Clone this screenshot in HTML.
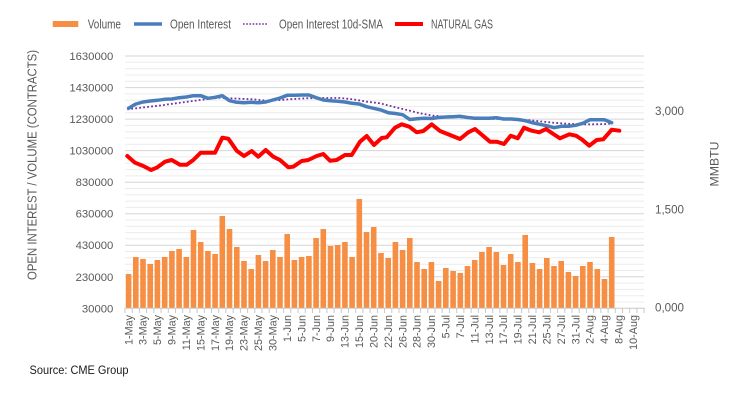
<!DOCTYPE html>
<html><head><meta charset="utf-8"><style>
html,body{margin:0;padding:0;background:#fff;}
svg{display:block;font-family:"Liberation Sans",Arial,sans-serif;}
</style></head><body>
<svg width="743" height="404" viewBox="0 0 743 404" xmlns="http://www.w3.org/2000/svg">
<rect width="743" height="404" fill="#fff"/>
<!-- legend -->
<rect x="52.7" y="21" width="25.6" height="6" fill="#f68f43"/>
<text x="87.7" y="28.5" font-size="13" fill="#595959" textLength="33.3" lengthAdjust="spacingAndGlyphs">Volume</text>
<line x1="134" y1="24" x2="162" y2="24" stroke="#4a7ebb" stroke-width="3.5"/>
<text x="170" y="28.5" font-size="13" fill="#595959" textLength="61" lengthAdjust="spacingAndGlyphs">Open Interest</text>
<line x1="243" y1="24" x2="268" y2="24" stroke="#7030a0" stroke-width="1.6" stroke-dasharray="1.6,1.6"/>
<text x="279" y="28.5" font-size="13" fill="#595959" textLength="104" lengthAdjust="spacingAndGlyphs">Open Interest 10d-SMA</text>
<line x1="395" y1="24" x2="423" y2="24" stroke="#ff0000" stroke-width="4"/>
<text x="431" y="28.5" font-size="13" fill="#595959" textLength="62" lengthAdjust="spacingAndGlyphs">NATURAL GAS</text>

<!-- minor gridlines -->
<g stroke="#ececec" stroke-width="1">
<line x1="125" x2="644" y1="302.0" y2="302.0"/><line x1="125" x2="644" y1="295.7" y2="295.7"/><line x1="125" x2="644" y1="289.4" y2="289.4"/><line x1="125" x2="644" y1="283.1" y2="283.1"/>
<line x1="125" x2="644" y1="270.5" y2="270.5"/><line x1="125" x2="644" y1="264.2" y2="264.2"/><line x1="125" x2="644" y1="257.8" y2="257.8"/><line x1="125" x2="644" y1="251.5" y2="251.5"/>
<line x1="125" x2="644" y1="238.9" y2="238.9"/><line x1="125" x2="644" y1="232.6" y2="232.6"/><line x1="125" x2="644" y1="226.3" y2="226.3"/><line x1="125" x2="644" y1="220.0" y2="220.0"/>
<line x1="125" x2="644" y1="207.4" y2="207.4"/><line x1="125" x2="644" y1="201.1" y2="201.1"/><line x1="125" x2="644" y1="194.8" y2="194.8"/><line x1="125" x2="644" y1="188.5" y2="188.5"/>
<line x1="125" x2="644" y1="175.9" y2="175.9"/><line x1="125" x2="644" y1="169.6" y2="169.6"/><line x1="125" x2="644" y1="163.2" y2="163.2"/><line x1="125" x2="644" y1="156.9" y2="156.9"/>
<line x1="125" x2="644" y1="144.3" y2="144.3"/><line x1="125" x2="644" y1="138.0" y2="138.0"/><line x1="125" x2="644" y1="131.7" y2="131.7"/><line x1="125" x2="644" y1="125.4" y2="125.4"/>
<line x1="125" x2="644" y1="112.8" y2="112.8"/><line x1="125" x2="644" y1="106.5" y2="106.5"/><line x1="125" x2="644" y1="100.2" y2="100.2"/><line x1="125" x2="644" y1="93.9" y2="93.9"/>
<line x1="125" x2="644" y1="81.3" y2="81.3"/><line x1="125" x2="644" y1="75.0" y2="75.0"/><line x1="125" x2="644" y1="68.7" y2="68.7"/><line x1="125" x2="644" y1="62.3" y2="62.3"/>
</g>
<!-- major gridlines -->
<g stroke="#d6d6d6" stroke-width="1">
<line x1="125" x2="644" y1="276.8" y2="276.8"/><line x1="125" x2="644" y1="245.2" y2="245.2"/><line x1="125" x2="644" y1="213.7" y2="213.7"/><line x1="125" x2="644" y1="182.2" y2="182.2"/>
<line x1="125" x2="644" y1="150.6" y2="150.6"/><line x1="125" x2="644" y1="119.1" y2="119.1"/><line x1="125" x2="644" y1="87.6" y2="87.6"/><line x1="125" x2="644" y1="56.0" y2="56.0"/>
</g>

<!-- bars -->
<g fill="#f68f43">
<rect x="125.8" y="274" width="5.6" height="34.3"/>
<rect x="133.0" y="257" width="5.6" height="51.3"/>
<rect x="140.2" y="259" width="5.6" height="49.3"/>
<rect x="147.4" y="264" width="5.6" height="44.3"/>
<rect x="154.6" y="260" width="5.6" height="48.3"/>
<rect x="161.9" y="257" width="5.6" height="51.3"/>
<rect x="169.1" y="251" width="5.6" height="57.3"/>
<rect x="176.3" y="249" width="5.6" height="59.3"/>
<rect x="183.5" y="257" width="5.6" height="51.3"/>
<rect x="190.7" y="230" width="5.6" height="78.3"/>
<rect x="197.9" y="242" width="5.6" height="66.3"/>
<rect x="205.1" y="251" width="5.6" height="57.3"/>
<rect x="212.3" y="254" width="5.6" height="54.3"/>
<rect x="219.5" y="216" width="5.6" height="92.3"/>
<rect x="226.7" y="229" width="5.6" height="79.3"/>
<rect x="234.0" y="247" width="5.6" height="61.3"/>
<rect x="241.2" y="261" width="5.6" height="47.3"/>
<rect x="248.4" y="269" width="5.6" height="39.3"/>
<rect x="255.6" y="255" width="5.6" height="53.3"/>
<rect x="262.8" y="261" width="5.6" height="47.3"/>
<rect x="270.0" y="250" width="5.6" height="58.3"/>
<rect x="277.2" y="257" width="5.6" height="51.3"/>
<rect x="284.4" y="234" width="5.6" height="74.3"/>
<rect x="291.6" y="260" width="5.6" height="48.3"/>
<rect x="298.8" y="257" width="5.6" height="51.3"/>
<rect x="306.1" y="256" width="5.6" height="52.3"/>
<rect x="313.3" y="238" width="5.6" height="70.3"/>
<rect x="320.5" y="229" width="5.6" height="79.3"/>
<rect x="327.7" y="246" width="5.6" height="62.3"/>
<rect x="334.9" y="245" width="5.6" height="63.3"/>
<rect x="342.1" y="242" width="5.6" height="66.3"/>
<rect x="349.3" y="257" width="5.6" height="51.3"/>
<rect x="356.5" y="199" width="5.6" height="109.3"/>
<rect x="363.7" y="232" width="5.6" height="76.3"/>
<rect x="370.9" y="227" width="5.6" height="81.3"/>
<rect x="378.2" y="253" width="5.6" height="55.3"/>
<rect x="385.4" y="258" width="5.6" height="50.3"/>
<rect x="392.6" y="242" width="5.6" height="66.3"/>
<rect x="399.8" y="250" width="5.6" height="58.3"/>
<rect x="407.0" y="238" width="5.6" height="70.3"/>
<rect x="414.2" y="262" width="5.6" height="46.3"/>
<rect x="421.4" y="269" width="5.6" height="39.3"/>
<rect x="428.6" y="262" width="5.6" height="46.3"/>
<rect x="435.8" y="281" width="5.6" height="27.3"/>
<rect x="443.0" y="268" width="5.6" height="40.3"/>
<rect x="450.3" y="271" width="5.6" height="37.3"/>
<rect x="457.5" y="273" width="5.6" height="35.3"/>
<rect x="464.7" y="266" width="5.6" height="42.3"/>
<rect x="471.9" y="260" width="5.6" height="48.3"/>
<rect x="479.1" y="252" width="5.6" height="56.3"/>
<rect x="486.3" y="247" width="5.6" height="61.3"/>
<rect x="493.5" y="252" width="5.6" height="56.3"/>
<rect x="500.7" y="265" width="5.6" height="43.3"/>
<rect x="507.9" y="254" width="5.6" height="54.3"/>
<rect x="515.1" y="262" width="5.6" height="46.3"/>
<rect x="522.4" y="235" width="5.6" height="73.3"/>
<rect x="529.6" y="263" width="5.6" height="45.3"/>
<rect x="536.8" y="269" width="5.6" height="39.3"/>
<rect x="544.0" y="258" width="5.6" height="50.3"/>
<rect x="551.2" y="266" width="5.6" height="42.3"/>
<rect x="558.4" y="261" width="5.6" height="47.3"/>
<rect x="565.6" y="272" width="5.6" height="36.3"/>
<rect x="572.8" y="276" width="5.6" height="32.3"/>
<rect x="580.0" y="266" width="5.6" height="42.3"/>
<rect x="587.2" y="262" width="5.6" height="46.3"/>
<rect x="594.5" y="269" width="5.6" height="39.3"/>
<rect x="601.7" y="279" width="5.6" height="29.3"/>
<rect x="608.9" y="237" width="5.6" height="71.3"/>
</g>

<!-- axis line + ticks -->
<line x1="125" y1="308.3" x2="644.5" y2="308.3" stroke="#c8c8c8" stroke-width="1"/>
<path stroke="#c8c8c8" stroke-width="1" fill="none" d="M125 308v5M132.2 308v5M139.4 308v5M146.6 308v5M153.8 308v5M161.1 308v5M168.3 308v5M175.5 308v5M182.7 308v5M189.9 308v5M197.1 308v5M204.3 308v5M211.5 308v5M218.7 308v5M225.9 308v5M233.2 308v5M240.4 308v5M247.6 308v5M254.8 308v5M262 308v5M269.2 308v5M276.4 308v5M283.6 308v5M290.8 308v5M298 308v5M305.3 308v5M312.5 308v5M319.7 308v5M326.9 308v5M334.1 308v5M341.3 308v5M348.5 308v5M355.7 308v5M362.9 308v5M370.1 308v5M377.4 308v5M384.6 308v5M391.8 308v5M399 308v5M406.2 308v5M413.4 308v5M420.6 308v5M427.8 308v5M435 308v5M442.2 308v5M449.5 308v5M456.7 308v5M463.9 308v5M471.1 308v5M478.3 308v5M485.5 308v5M492.7 308v5M499.9 308v5M507.1 308v5M514.3 308v5M521.6 308v5M528.8 308v5M536 308v5M543.2 308v5M550.4 308v5M557.6 308v5M564.8 308v5M572 308v5M579.2 308v5M586.4 308v5M593.7 308v5M600.9 308v5M608.1 308v5M615.3 308v5M622.5 308v5M629.7 308v5M636.9 308v5M644.1 308v5"/>

<!-- SMA dotted -->
<polyline fill="none" stroke="#7030a0" stroke-width="1.8" stroke-dasharray="1.8,2.2" points="127.3,109.3 160,105.5 200,100 220,97.7 230,98.3 253,99.3 267,100.7 280,100 293,99 307,98.3 320,98 340,98 353,99.3 367,101.7 380,103.3 393,106.7 407,110 420,113.3 433,115.7 447,116.7 460,117.3 473,118.3 487,119 500,119 513,119.3 527,120 540,121.3 553,122.7 567,123.7 580,124.3 593,124.3 607,124 612,123.3"/>

<!-- Open interest -->
<polyline fill="none" stroke="#4a7ebb" stroke-width="3.5" stroke-linejoin="round" stroke-linecap="round" points="128.6,108.3 135.8,104 143.0,102 150.2,101 157.4,100.3 164.7,99.3 171.9,99 179.1,97.7 186.3,97 193.5,95.7 200.7,95.7 207.9,98.3 215.1,97.3 222.3,95.7 229.5,100.7 236.8,102.3 244.0,102.7 251.2,102.3 258.4,102.7 265.6,102 272.8,100 280.0,98 287.2,95.3 294.4,95.3 301.6,95 308.9,95 316.1,97.7 323.3,100 330.5,100.7 337.7,101.3 344.9,102 352.1,103.3 359.3,104 366.5,106.7 373.7,108.3 381.0,110 388.2,112.7 395.4,113.5 402.6,114.7 409.8,119.5 417.0,118.7 424.2,118.3 431.4,118.5 438.6,117.5 445.8,117 453.1,116.7 460.3,116.3 467.5,117.5 474.7,118.3 481.9,118.3 489.1,118.3 496.3,117.7 503.5,119 510.7,119 517.9,119.5 525.2,120.7 532.4,122.7 539.6,124.3 546.8,125.7 554.0,127.7 561.2,126.3 568.4,126.3 575.6,125.3 582.8,123.3 590.0,119.7 597.3,119.7 604.5,119.7 611.7,122.7"/>

<!-- Natural gas -->
<polyline fill="none" stroke="#ff0000" stroke-width="4" stroke-linejoin="round" stroke-linecap="round" points="127.3,156 135,162.7 143.3,166 151,170 156.7,167.7 165,161.7 171.7,160 180,164.7 186.7,164.7 193.3,160 200.7,152.7 215,152.7 222.3,137.7 228.3,138.7 236.7,150.7 244,156 251.7,151 258.3,156.7 265.7,150 273.3,156.7 280,160 288.3,167.3 293.3,166.7 301.7,161 308.3,160 316.7,156 323.3,154 330,160.7 336.7,160 345,155 351.7,155 360,141.7 366.7,136 374,145 381.7,138 386.7,137.3 395,127.7 401.7,124.3 409.3,126.7 416.7,132.3 423.3,131 431.7,124.3 440,131 450,135 460,139 468.3,132.3 475,129 490,141.7 496.7,141.7 504,144 510.7,135.7 517.7,138.3 524,127.7 531.7,130.7 539.3,132.3 546,129 553.3,134 560,138.3 569.3,134.3 576,135.7 581.7,139.3 589.3,145.7 596.7,140 603.3,139.3 611.7,129.7 619.3,130.7"/>

<!-- left axis labels -->
<g font-size="11.3" fill="#595959" text-anchor="end">
<text x="113.3" y="60">1630000</text>
<text x="113.3" y="91.6">1430000</text>
<text x="113.3" y="123.1">1230000</text>
<text x="113.3" y="154.6">1030000</text>
<text x="113.3" y="186.2">830000</text>
<text x="113.3" y="217.7">630000</text>
<text x="113.3" y="249.2">430000</text>
<text x="113.3" y="280.8">230000</text>
<text x="113.3" y="312.3">30000</text>
</g>
<text transform="translate(36.5,165) rotate(-90)" font-size="12.5" fill="#595959" text-anchor="middle" textLength="230" lengthAdjust="spacingAndGlyphs">OPEN INTEREST / VOLUME (CONTRACTS)</text>

<!-- right axis labels -->
<g font-size="11.5" fill="#595959">
<text x="655" y="114.8" textLength="29" lengthAdjust="spacingAndGlyphs">3,000</text>
<text x="655" y="213.4" textLength="29" lengthAdjust="spacingAndGlyphs">1,500</text>
<text x="655" y="311.4" textLength="29" lengthAdjust="spacingAndGlyphs">0,000</text>
</g>
<text transform="translate(718.5,164) rotate(-90)" font-size="12.3" fill="#595959" text-anchor="middle">MMBTU</text>

<!-- x labels -->
<g font-size="10.8" fill="#595959" text-anchor="end">
<text transform="translate(132.3,315) rotate(-90)">1-May</text>
<text transform="translate(146.7,315) rotate(-90)">3-May</text>
<text transform="translate(161.1,315) rotate(-90)">5-May</text>
<text transform="translate(175.6,315) rotate(-90)">9-May</text>
<text transform="translate(190.0,315) rotate(-90)">11-May</text>
<text transform="translate(204.4,315) rotate(-90)">15-May</text>
<text transform="translate(218.8,315) rotate(-90)">17-May</text>
<text transform="translate(233.2,315) rotate(-90)">19-May</text>
<text transform="translate(247.7,315) rotate(-90)">23-May</text>
<text transform="translate(262.1,315) rotate(-90)">25-May</text>
<text transform="translate(276.5,315) rotate(-90)">30-May</text>
<text transform="translate(290.9,315) rotate(-90)">1-Jun</text>
<text transform="translate(305.3,315) rotate(-90)">5-Jun</text>
<text transform="translate(319.8,315) rotate(-90)">7-Jun</text>
<text transform="translate(334.2,315) rotate(-90)">9-Jun</text>
<text transform="translate(348.6,315) rotate(-90)">13-Jun</text>
<text transform="translate(363.0,315) rotate(-90)">15-Jun</text>
<text transform="translate(377.4,315) rotate(-90)">20-Jun</text>
<text transform="translate(391.9,315) rotate(-90)">22-Jun</text>
<text transform="translate(406.3,315) rotate(-90)">26-Jun</text>
<text transform="translate(420.7,315) rotate(-90)">28-Jun</text>
<text transform="translate(435.1,315) rotate(-90)">30-Jun</text>
<text transform="translate(449.5,315) rotate(-90)">5-Jul</text>
<text transform="translate(464.0,315) rotate(-90)">7-Jul</text>
<text transform="translate(478.4,315) rotate(-90)">11-Jul</text>
<text transform="translate(492.8,315) rotate(-90)">13-Jul</text>
<text transform="translate(507.2,315) rotate(-90)">17-Jul</text>
<text transform="translate(521.6,315) rotate(-90)">19-Jul</text>
<text transform="translate(536.1,315) rotate(-90)">21-Jul</text>
<text transform="translate(550.5,315) rotate(-90)">25-Jul</text>
<text transform="translate(564.9,315) rotate(-90)">27-Jul</text>
<text transform="translate(579.3,315) rotate(-90)">31-Jul</text>
<text transform="translate(593.7,315) rotate(-90)">2-Aug</text>
<text transform="translate(608.2,315) rotate(-90)">4-Aug</text>
<text transform="translate(622.6,315) rotate(-90)">8-Aug</text>
<text transform="translate(637.0,315) rotate(-90)">10-Aug</text>
</g>

<!-- source -->
<text x="29.5" y="374" font-size="12" fill="#1a1a1a" textLength="99" lengthAdjust="spacingAndGlyphs">Source: CME Group</text>
</svg>
</body></html>
